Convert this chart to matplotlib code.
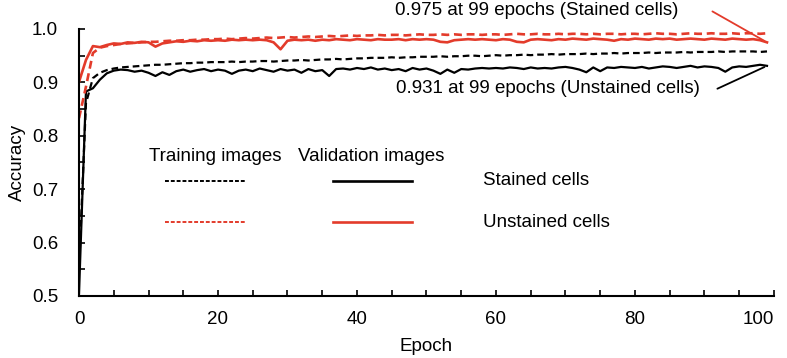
import matplotlib.pyplot as plt
import numpy as np

plt.rcParams['font.family'] = ['Liberation Sans', 'DejaVu Sans']

# epochs 0..99
epochs = np.arange(100)

# validation accuracy, red curve (legend: Unstained cells)
val_red = [0.901, 0.942, 0.968, 0.966, 0.970, 0.973, 0.972, 0.975, 0.974, 0.976,
           0.975, 0.967, 0.973, 0.975, 0.977, 0.976, 0.978, 0.977, 0.979, 0.978,
           0.979, 0.978, 0.980, 0.979, 0.980, 0.979, 0.980, 0.979, 0.975, 0.962,
           0.978, 0.980, 0.979, 0.980, 0.978, 0.980, 0.979, 0.981, 0.980, 0.979,
           0.981, 0.980, 0.979, 0.981, 0.980, 0.980, 0.981, 0.979, 0.981, 0.980,
           0.981, 0.980, 0.976, 0.975, 0.979, 0.980, 0.981, 0.980, 0.981, 0.980,
           0.979, 0.981, 0.980, 0.976, 0.975, 0.980, 0.981, 0.980, 0.979, 0.981,
           0.980, 0.982, 0.981, 0.980, 0.982, 0.981, 0.980, 0.978, 0.981, 0.980,
           0.982, 0.981, 0.980, 0.982, 0.981, 0.982, 0.980, 0.981, 0.982, 0.981,
           0.980, 0.982, 0.981, 0.980, 0.982, 0.981, 0.980, 0.981, 0.979, 0.975]

# training accuracy, red curve
train_red = [0.833, 0.892, 0.955, 0.965, 0.968, 0.970, 0.972, 0.973, 0.974, 0.975,
             0.976, 0.976, 0.977, 0.978, 0.978, 0.979, 0.979, 0.980, 0.980, 0.981,
             0.981, 0.982, 0.981, 0.982, 0.983, 0.982, 0.983, 0.984, 0.983, 0.984,
             0.985, 0.984, 0.985, 0.986, 0.985, 0.986, 0.987, 0.986, 0.987, 0.988,
             0.987, 0.988, 0.988, 0.989, 0.988, 0.989, 0.989, 0.988, 0.989, 0.990,
             0.989, 0.989, 0.990, 0.989, 0.990, 0.989, 0.990, 0.990, 0.989, 0.990,
             0.990, 0.989, 0.990, 0.991, 0.990, 0.990, 0.991, 0.990, 0.990, 0.991,
             0.990, 0.991, 0.991, 0.990, 0.991, 0.990, 0.991, 0.991, 0.990, 0.991,
             0.991, 0.990, 0.991, 0.992, 0.991, 0.991, 0.990, 0.991, 0.992, 0.991,
             0.991, 0.992, 0.991, 0.991, 0.992, 0.991, 0.992, 0.992, 0.991, 0.992]

# validation accuracy, black curve (legend: Stained cells)
val_black = [0.505, 0.883, 0.889, 0.905, 0.917, 0.922, 0.924, 0.923, 0.920, 0.922,
             0.918, 0.912, 0.919, 0.914, 0.921, 0.924, 0.920, 0.923, 0.925, 0.921,
             0.924, 0.922, 0.916, 0.922, 0.924, 0.921, 0.926, 0.923, 0.920, 0.925,
             0.922, 0.924, 0.918, 0.925, 0.921, 0.923, 0.912, 0.925, 0.926, 0.924,
             0.927, 0.925, 0.928, 0.924, 0.926, 0.923, 0.925, 0.921, 0.927, 0.924,
             0.926, 0.922, 0.916, 0.924, 0.918, 0.925, 0.924, 0.926, 0.927, 0.926,
             0.927, 0.926, 0.928, 0.927, 0.925, 0.928, 0.926, 0.927, 0.926, 0.928,
             0.929, 0.927, 0.924, 0.919, 0.928, 0.921, 0.928, 0.927, 0.929, 0.928,
             0.927, 0.929, 0.926, 0.928, 0.930, 0.929, 0.927, 0.929, 0.931, 0.928,
             0.930, 0.929, 0.927, 0.920, 0.928, 0.930, 0.929, 0.931, 0.933, 0.931]

# training accuracy, black curve
train_black = [0.550, 0.861, 0.908, 0.918, 0.923, 0.926, 0.928, 0.929, 0.930, 0.931,
               0.932, 0.933, 0.933, 0.934, 0.935, 0.936, 0.936, 0.937, 0.937, 0.938,
               0.938, 0.938, 0.939, 0.938, 0.939, 0.939, 0.940, 0.940, 0.939, 0.940,
               0.941, 0.941, 0.942, 0.941, 0.942, 0.943, 0.943, 0.944, 0.943, 0.944,
               0.945, 0.945, 0.946, 0.946, 0.946, 0.947, 0.946, 0.947, 0.947, 0.948,
               0.948, 0.948, 0.949, 0.948, 0.949, 0.949, 0.950, 0.950, 0.949, 0.950,
               0.951, 0.950, 0.951, 0.951, 0.952, 0.951, 0.952, 0.952, 0.953, 0.952,
               0.953, 0.953, 0.953, 0.954, 0.953, 0.954, 0.954, 0.955, 0.954, 0.955,
               0.955, 0.955, 0.956, 0.955, 0.956, 0.956, 0.956, 0.957, 0.956, 0.957,
               0.957, 0.957, 0.958, 0.957, 0.958, 0.958, 0.958, 0.958, 0.957, 0.958]

red = '#e33b2b'
fs = 13.5

fig = plt.figure(figsize=(7.87, 3.58), dpi=100)
ax = fig.add_axes([0.1004, 0.1732, 0.883, 0.7458])

ax.plot(epochs, train_black, color='black', lw=1.6, dashes=(3, 1.8))
ax.plot(epochs, val_black, color='black', lw=1.6)
ax.plot(epochs, train_red, color=red, lw=1.9, dashes=(3, 1.8))
ax.plot(epochs, val_red, color=red, lw=1.9)

ax.set_xlim(0, 100)
ax.set_ylim(0.5, 1.0)
ax.set_xticks(np.arange(0, 101, 20))
ax.set_xticks(np.arange(0, 101, 5), minor=True)
ax.set_yticks(np.arange(0.5, 1.01, 0.1))
ax.set_yticks(np.arange(0.5, 1.01, 0.05), minor=True)
ax.set_yticklabels(['0.5', '0.6', '0.7', '0.8', '0.9', '1.0'])
ax.tick_params(which='both', direction='in', length=4, width=1.2, labelsize=fs)
ax.tick_params(axis='x', pad=11)
ax.tick_params(axis='y', pad=15)
ax.get_xticklabels()[-1].set_horizontalalignment('right')
ax.spines['top'].set_visible(False)
ax.spines['right'].set_visible(False)
ax.spines['left'].set_linewidth(1.5)
ax.spines['bottom'].set_linewidth(1.5)
ax.set_xlabel('Epoch', fontsize=fs, labelpad=7)
ax.set_ylabel('Accuracy', fontsize=fs, labelpad=4)

# annotations of the final values
ax.annotate('', xy=(99, val_red[-1]), xytext=(0.908, 1.071), textcoords='axes fraction',
            arrowprops=dict(arrowstyle='-', color=red, lw=1.3), annotation_clip=False)
ax.text(0.659, 1.071, '0.975 at 99 epochs (Stained cells)', transform=ax.transAxes,
        ha='center', va='center', fontsize=fs)
ax.annotate('', xy=(99, val_black[-1]), xytext=(0.915, 0.772), textcoords='axes fraction',
            arrowprops=dict(arrowstyle='-', color='black', lw=1.3))
ax.text(0.675, 0.779, '0.931 at 99 epochs (Unstained cells)', transform=ax.transAxes,
        ha='center', va='center', fontsize=fs)

# hand-made legend table
ax.text(0.196, 0.521, 'Training images', transform=ax.transAxes, ha='center', va='center', fontsize=fs)
ax.text(0.42, 0.521, 'Validation images', transform=ax.transAxes, ha='center', va='center', fontsize=fs)
ax.plot([0.124, 0.239], [0.431, 0.431], transform=ax.transAxes, color='black', lw=1.4, dashes=(2, 1))
ax.plot([0.365, 0.479], [0.431, 0.431], transform=ax.transAxes, color='black', lw=1.9)
ax.plot([0.124, 0.239], [0.277, 0.277], transform=ax.transAxes, color=red, lw=1.4, dashes=(2, 1))
ax.plot([0.365, 0.479], [0.277, 0.277], transform=ax.transAxes, color=red, lw=1.9)
ax.text(0.581, 0.431, 'Stained cells', transform=ax.transAxes, ha='left', va='center', fontsize=fs)
ax.text(0.581, 0.277, 'Unstained cells', transform=ax.transAxes, ha='left', va='center', fontsize=fs)

fig.savefig('out.png', dpi=100)
